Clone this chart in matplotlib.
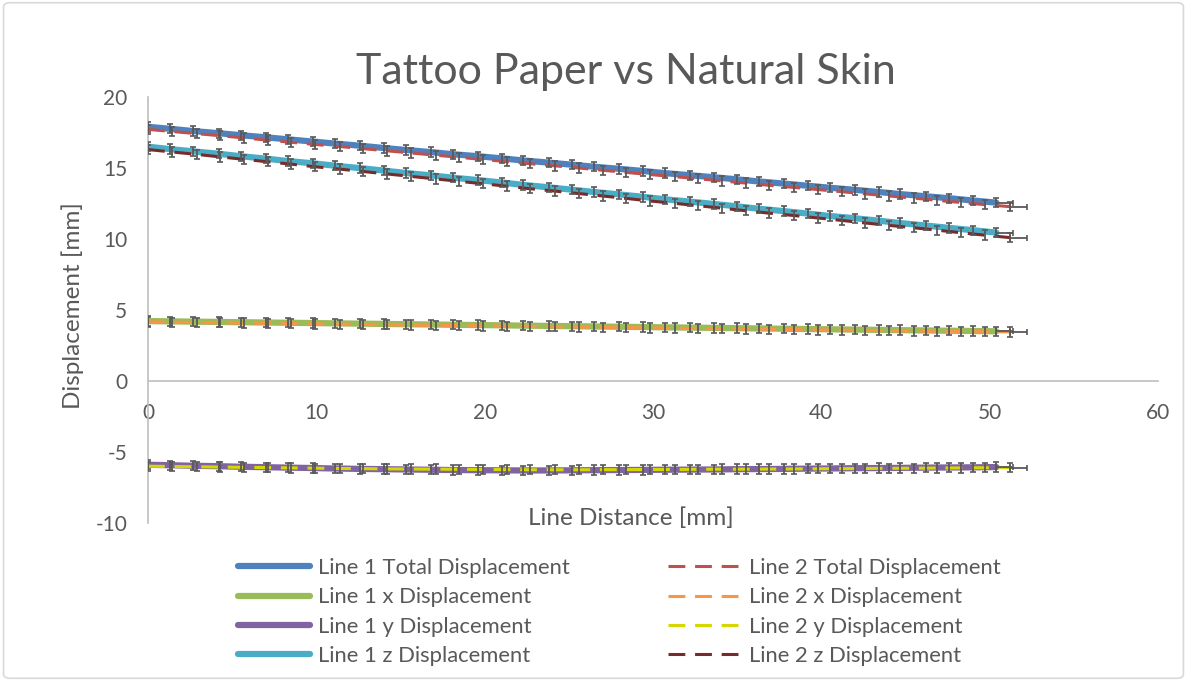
import matplotlib.pyplot as plt
from matplotlib.patches import FancyBboxPatch

plt.rcParams['font.family'] = ['Lato', 'DejaVu Sans']
plt.rcParams['axes.unicode_minus'] = False

# distance along each line [mm]
dist1 = [0, 1.3, 2.7, 4.2, 5.5, 7.0, 8.3, 9.8, 11.1, 12.6, 14.0, 15.3, 16.8,
         18.1, 19.6, 21.0, 22.3, 23.8, 25.2, 26.5, 28.0, 29.4, 30.7, 32.2,
         33.6, 35.0, 36.3, 37.8, 39.2, 40.5, 42.0, 43.4, 44.7, 46.2, 47.6,
         49.0, 50.4]
dist2 = [0, 1.4, 2.9, 4.3, 5.7, 7.1, 8.5, 9.9, 11.4, 12.8, 14.2, 15.6, 17.1,
         18.5, 19.9, 21.3, 22.7, 24.2, 25.6, 27.0, 28.4, 29.8, 31.3, 32.7,
         34.1, 35.5, 36.9, 38.4, 39.8, 41.2, 42.6, 44.0, 45.5, 46.9, 48.3,
         49.7, 51.2]

# Line 1 (tattoo paper) displacements [mm]
l1_total = [17.90, 17.76, 17.60, 17.45, 17.31, 17.16, 17.02, 16.86, 16.72,
            16.57, 16.41, 16.27, 16.12, 15.97, 15.83, 15.68, 15.53, 15.38,
            15.23, 15.09, 14.94, 14.79, 14.64, 14.49, 14.35, 14.20, 14.05,
            13.90, 13.75, 13.61, 13.46, 13.31, 13.16, 13.01, 12.87, 12.71,
            12.56]
l1_x = [4.22, 4.20, 4.18, 4.16, 4.14, 4.12, 4.10, 4.08, 4.06, 4.04, 4.02,
        4.00, 3.98, 3.96, 3.94, 3.92, 3.90, 3.88, 3.86, 3.84, 3.82, 3.80,
        3.78, 3.76, 3.74, 3.72, 3.70, 3.68, 3.66, 3.64, 3.62, 3.60, 3.58,
        3.56, 3.54, 3.52, 3.50]
l1_y = [-5.90, -5.93, -5.97, -6.00, -6.04, -6.07, -6.10, -6.13, -6.16, -6.19,
        -6.21, -6.23, -6.25, -6.27, -6.28, -6.29, -6.30, -6.30, -6.29, -6.28,
        -6.27, -6.26, -6.25, -6.24, -6.23, -6.21, -6.20, -6.19, -6.17, -6.16,
        -6.14, -6.13, -6.12, -6.10, -6.09, -6.08, -6.06]
l1_z = [16.50, 16.33, 16.17, 16.00, 15.83, 15.66, 15.49, 15.33, 15.16, 14.99,
        14.82, 14.65, 14.48, 14.32, 14.15, 13.98, 13.81, 13.64, 13.47, 13.31,
        13.14, 12.97, 12.80, 12.63, 12.47, 12.30, 12.13, 11.96, 11.79, 11.62,
        11.46, 11.29, 11.12, 10.95, 10.78, 10.62, 10.45]

# Line 2 (natural skin) displacements [mm]
l2_total = [17.72, 17.57, 17.42, 17.27, 17.12, 16.96, 16.81, 16.66, 16.51,
            16.36, 16.21, 16.06, 15.90, 15.75, 15.60, 15.45, 15.30, 15.15,
            15.00, 14.84, 14.69, 14.54, 14.39, 14.24, 14.09, 13.94, 13.78,
            13.63, 13.48, 13.33, 13.18, 13.03, 12.88, 12.72, 12.57, 12.42,
            12.28]
l2_x = [4.16, 4.14, 4.12, 4.10, 4.08, 4.06, 4.04, 4.02, 4.00, 3.98, 3.96,
        3.94, 3.92, 3.90, 3.88, 3.86, 3.84, 3.82, 3.80, 3.78, 3.76, 3.74,
        3.72, 3.70, 3.68, 3.66, 3.64, 3.62, 3.60, 3.58, 3.56, 3.54, 3.52,
        3.50, 3.48, 3.47, 3.46]
l2_y = [-6.00, -6.02, -6.04, -6.06, -6.08, -6.10, -6.12, -6.14, -6.16, -6.17,
        -6.19, -6.20, -6.21, -6.22, -6.23, -6.24, -6.25, -6.25, -6.25, -6.24,
        -6.24, -6.23, -6.23, -6.22, -6.21, -6.21, -6.20, -6.19, -6.18, -6.17,
        -6.16, -6.15, -6.14, -6.13, -6.12, -6.11, -6.10]
l2_z = [16.30, 16.13, 15.96, 15.78, 15.61, 15.44, 15.27, 15.09, 14.92, 14.75,
        14.58, 14.41, 14.23, 14.06, 13.89, 13.72, 13.54, 13.37, 13.20, 13.03,
        12.86, 12.68, 12.51, 12.34, 12.17, 11.99, 11.82, 11.65, 11.48, 11.31,
        11.13, 10.96, 10.79, 10.62, 10.44, 10.27, 10.10]

y_err = 0.33    # measurement uncertainty [mm]
x_err = 1.0     # uncertainty on the final distance [mm]

line1 = [("Line 1 Total Displacement", l1_total, "#4F81BD"),
         ("Line 1 x Displacement", l1_x, "#9BBB59"),
         ("Line 1 y Displacement", l1_y, "#8064A2"),
         ("Line 1 z Displacement", l1_z, "#4BACC6")]
line2 = [("Line 2 Total Displacement", l2_total, "#C0504D"),
         ("Line 2 x Displacement", l2_x, "#F79646"),
         ("Line 2 y Displacement", l2_y, "#D6D600"),
         ("Line 2 z Displacement", l2_z, "#772C2A")]

grey = "#595959"
err_kw = dict(fmt="none", ecolor=grey, elinewidth=1.3, capsize=2.0,
              capthick=1.2, zorder=5)

fig = plt.figure(figsize=(11.87, 6.81), dpi=100)
ax = fig.add_axes([148 / 1187, 1 - 523 / 681, 1010 / 1187, 426 / 681])

for name, vals, col in line1:
    ax.plot(dist1, vals, color=col, lw=4.5, solid_capstyle="round",
            label=name, zorder=3)
for name, vals, col in line2:
    ax.plot(dist2, vals, color=col, lw=2.2, linestyle=(0, (5.5, 3.2)),
            label=name, zorder=4)

for name, vals, col in line1:
    ax.errorbar(dist1, vals, yerr=y_err, **err_kw)
    ax.errorbar(dist1[-1:], vals[-1:], xerr=[[0], [x_err]], **err_kw)
for name, vals, col in line2:
    ax.errorbar(dist2, vals, yerr=y_err, **err_kw)
    ax.errorbar(dist2[-1:], vals[-1:], xerr=[[0], [x_err]], **err_kw)

ax.set_xlim(0, 60)
ax.set_ylim(-10, 20)
ax.set_xticks(range(0, 61, 10))
ax.set_yticks(range(-10, 21, 5))

for s in ["top", "right"]:
    ax.spines[s].set_visible(False)
ax.spines["bottom"].set_position(("data", 0))
for s in ["left", "bottom"]:
    ax.spines[s].set_color("#BFBFBF")
    ax.spines[s].set_linewidth(1.2)
ax.tick_params(axis="both", length=0, labelsize=15, labelcolor=grey)
ax.tick_params(axis="x", pad=16)
ax.tick_params(axis="y", pad=15)

fig.text(626 / 1187, 1 - 72 / 681, "Tattoo Paper vs Natural Skin",
         ha="center", va="center", fontsize=31, color=grey)
fig.text(73 / 1187, 1 - 306 / 681, "Displacement [mm]", rotation=90,
         ha="center", va="center", fontsize=17.5, color=grey)
fig.text(631 / 1187, 1 - 518 / 681, "Line Distance [mm]",
         ha="center", va="center", fontsize=17.5, color=grey)

fig.legend(loc="center", bbox_to_anchor=(619 / 1187, 1 - 612 / 681),
           ncol=2, frameon=False, fontsize=15.8, labelcolor=grey,
           handlelength=3.3, handletextpad=0.35, columnspacing=4.5,
           labelspacing=0.42, borderpad=0)

# thin rounded border round the whole chart
fig.patches.append(FancyBboxPatch((0.003, 0.004), 0.994, 0.992,
                                  boxstyle="round,pad=0,rounding_size=0.006",
                                  transform=fig.transFigure, fill=False,
                                  edgecolor="#D9D9D9", lw=1.2))

fig.savefig("out.png", dpi=100)
